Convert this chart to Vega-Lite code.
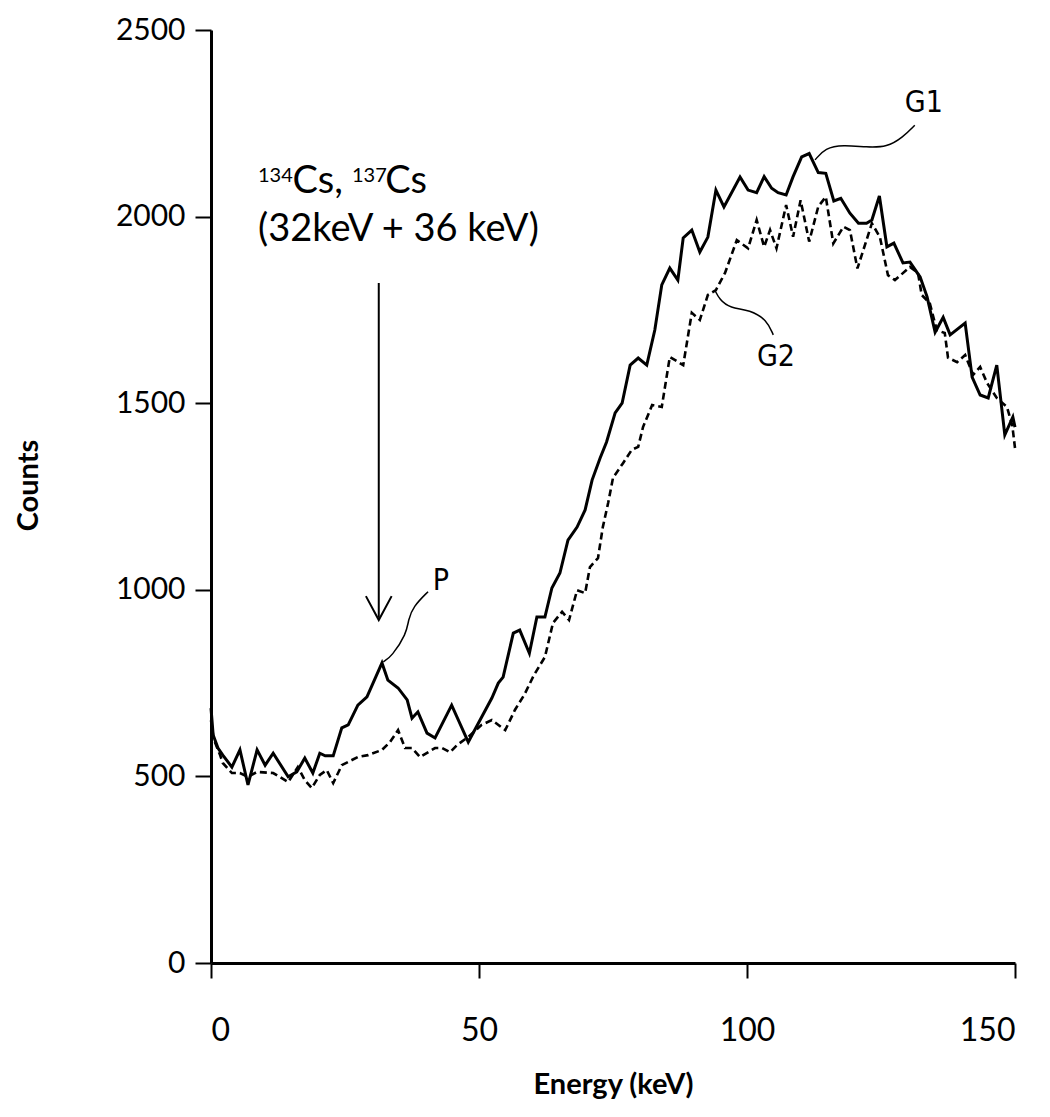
{
  "$schema": "https://vega.github.io/schema/vega-lite/v6.json",
  "width": 804,
  "height": 933,
  "autosize": "none",
  "padding": {"left": 211, "top": 30, "right": 35, "bottom": 154},
  "background": "white",
  "config": {
    "view": {"stroke": null},
    "axis": {"grid": false, "domainColor": "black", "tickColor": "black", "labelColor": "black", "titleColor": "black"}
  },
  "datasets": {
    "g1": [
      {"energy": 0, "counts": 683}, {"energy": 0.4, "counts": 611}, {"energy": 1.3, "counts": 576}, {"energy": 2.2, "counts": 557},
      {"energy": 3.9, "counts": 525}, {"energy": 5.4, "counts": 571}, {"energy": 6.9, "counts": 477}, {"energy": 8.6, "counts": 571},
      {"energy": 10.1, "counts": 530}, {"energy": 11.6, "counts": 562}, {"energy": 14.4, "counts": 499}, {"energy": 16, "counts": 512},
      {"energy": 17.5, "counts": 549}, {"energy": 19, "counts": 509}, {"energy": 20.3, "counts": 562}, {"energy": 21.3, "counts": 555},
      {"energy": 22.8, "counts": 555}, {"energy": 24.4, "counts": 630}, {"energy": 25.6, "counts": 638}, {"energy": 27.4, "counts": 691},
      {"energy": 29.1, "counts": 713}, {"energy": 31.9, "counts": 804}, {"energy": 33, "counts": 758}, {"energy": 34.9, "counts": 737},
      {"energy": 36.6, "counts": 705}, {"energy": 37.5, "counts": 656}, {"energy": 38.6, "counts": 673}, {"energy": 40.3, "counts": 616},
      {"energy": 41.8, "counts": 603}, {"energy": 44.9, "counts": 691}, {"energy": 48, "counts": 592}, {"energy": 50.5, "counts": 659},
      {"energy": 52.4, "counts": 710}, {"energy": 53.6, "counts": 750}, {"energy": 54.5, "counts": 766}, {"energy": 56.4, "counts": 884},
      {"energy": 57.6, "counts": 892}, {"energy": 59.4, "counts": 830}, {"energy": 60.8, "counts": 927}, {"energy": 62.3, "counts": 927},
      {"energy": 63.6, "counts": 1005}, {"energy": 65.1, "counts": 1045}, {"energy": 66.6, "counts": 1133}, {"energy": 68.3, "counts": 1168},
      {"energy": 69.8, "counts": 1214}, {"energy": 71.1, "counts": 1294}, {"energy": 72.6, "counts": 1353}, {"energy": 73.8, "counts": 1396},
      {"energy": 75.4, "counts": 1474}, {"energy": 76.7, "counts": 1500}, {"energy": 78.2, "counts": 1602}, {"energy": 79.7, "counts": 1621},
      {"energy": 81.3, "counts": 1602}, {"energy": 82.8, "counts": 1696}, {"energy": 84.1, "counts": 1817}, {"energy": 85.6, "counts": 1862},
      {"energy": 87.1, "counts": 1830}, {"energy": 88.1, "counts": 1943}, {"energy": 89.7, "counts": 1964}, {"energy": 91.2, "counts": 1905},
      {"energy": 92.7, "counts": 1945}, {"energy": 94.2, "counts": 2071}, {"energy": 95.7, "counts": 2026}, {"energy": 98.7, "counts": 2106},
      {"energy": 100.2, "counts": 2071}, {"energy": 101.8, "counts": 2064}, {"energy": 103.2, "counts": 2107}, {"energy": 104.6, "counts": 2076},
      {"energy": 105.8, "counts": 2064}, {"energy": 107.3, "counts": 2058}, {"energy": 108.6, "counts": 2107}, {"energy": 110.2, "counts": 2160},
      {"energy": 111.6, "counts": 2169}, {"energy": 113.3, "counts": 2118}, {"energy": 114.7, "counts": 2116}, {"energy": 116.2, "counts": 2042},
      {"energy": 117.5, "counts": 2049}, {"energy": 119.2, "counts": 2009}, {"energy": 120.8, "counts": 1982}, {"energy": 122.3, "counts": 1982},
      {"energy": 123.3, "counts": 1991}, {"energy": 124.7, "counts": 2055}, {"energy": 126.1, "counts": 1919}, {"energy": 127.4, "counts": 1929},
      {"energy": 129.1, "counts": 1876}, {"energy": 130.4, "counts": 1878}, {"energy": 132.3, "counts": 1838}, {"energy": 133.6, "counts": 1785},
      {"energy": 135.1, "counts": 1690}, {"energy": 136.6, "counts": 1730}, {"energy": 137.9, "counts": 1683}, {"energy": 140.7, "counts": 1715},
      {"energy": 142, "counts": 1570}, {"energy": 143.5, "counts": 1522}, {"energy": 145, "counts": 1514}, {"energy": 146.6, "counts": 1602},
      {"energy": 148.1, "counts": 1415}, {"energy": 149.6, "counts": 1463}, {"energy": 150, "counts": 1436}
    ],
    "g2": [
      {"energy": 0, "counts": 650}, {"energy": 0.5, "counts": 600}, {"energy": 1.7, "counts": 557}, {"energy": 2.2, "counts": 536},
      {"energy": 3.9, "counts": 509}, {"energy": 5.4, "counts": 509}, {"energy": 6.9, "counts": 499}, {"energy": 8.6, "counts": 512},
      {"energy": 11.6, "counts": 509}, {"energy": 14.4, "counts": 485}, {"energy": 16.2, "counts": 525}, {"energy": 17.5, "counts": 490},
      {"energy": 18.8, "counts": 469}, {"energy": 20.3, "counts": 504}, {"energy": 21.6, "counts": 517}, {"energy": 22.8, "counts": 482},
      {"energy": 24.4, "counts": 530}, {"energy": 25.6, "counts": 539}, {"energy": 27.4, "counts": 552}, {"energy": 29.3, "counts": 557},
      {"energy": 31.9, "counts": 571}, {"energy": 33.4, "counts": 592}, {"energy": 34.9, "counts": 624}, {"energy": 36.2, "counts": 576},
      {"energy": 37.5, "counts": 576}, {"energy": 39, "counts": 552}, {"energy": 41.8, "counts": 576}, {"energy": 43.1, "counts": 576},
      {"energy": 44.6, "counts": 565}, {"energy": 45.9, "counts": 584}, {"energy": 48, "counts": 606}, {"energy": 50.5, "counts": 638},
      {"energy": 52.4, "counts": 651}, {"energy": 54.9, "counts": 624}, {"energy": 56.7, "counts": 678}, {"energy": 58.5, "counts": 720},
      {"energy": 60.2, "counts": 770}, {"energy": 62.3, "counts": 820}, {"energy": 63.8, "counts": 911}, {"energy": 65.5, "counts": 941},
      {"energy": 66.8, "counts": 919}, {"energy": 68.3, "counts": 999}, {"energy": 69.8, "counts": 991}, {"energy": 70.7, "counts": 1061},
      {"energy": 72.2, "counts": 1085}, {"energy": 73.1, "counts": 1168}, {"energy": 74.1, "counts": 1233}, {"energy": 75, "counts": 1300},
      {"energy": 76.9, "counts": 1340}, {"energy": 78.5, "counts": 1375}, {"energy": 79.7, "counts": 1383}, {"energy": 80.6, "counts": 1436},
      {"energy": 82.3, "counts": 1495}, {"energy": 84.1, "counts": 1490}, {"energy": 85.6, "counts": 1624}, {"energy": 88.1, "counts": 1602},
      {"energy": 89.7, "counts": 1742}, {"energy": 91.2, "counts": 1723}, {"energy": 92.7, "counts": 1790}, {"energy": 94.2, "counts": 1803},
      {"energy": 95.9, "counts": 1849}, {"energy": 98.1, "counts": 1937}, {"energy": 100.2, "counts": 1915}, {"energy": 101.8, "counts": 1991},
      {"energy": 103.2, "counts": 1919}, {"energy": 104.3, "counts": 1964}, {"energy": 105.5, "counts": 1915}, {"energy": 107.3, "counts": 2031},
      {"energy": 108.6, "counts": 1946}, {"energy": 110, "counts": 2044}, {"energy": 111.6, "counts": 1933}, {"energy": 113.3, "counts": 2027},
      {"energy": 114.7, "counts": 2053}, {"energy": 116.1, "counts": 1928}, {"energy": 118, "counts": 1973}, {"energy": 119.2, "counts": 1964},
      {"energy": 120.6, "counts": 1861}, {"energy": 123.3, "counts": 1982}, {"energy": 124.8, "counts": 1945}, {"energy": 126.3, "counts": 1843},
      {"energy": 127.6, "counts": 1830}, {"energy": 130.4, "counts": 1865}, {"energy": 131.9, "counts": 1849}, {"energy": 132.6, "counts": 1790},
      {"energy": 134.1, "counts": 1768}, {"energy": 135.4, "counts": 1696}, {"energy": 136.9, "counts": 1688}, {"energy": 137.5, "counts": 1622},
      {"energy": 139.2, "counts": 1610}, {"energy": 140.7, "counts": 1629}, {"energy": 142.2, "counts": 1576}, {"energy": 143.5, "counts": 1597},
      {"energy": 144.8, "counts": 1554}, {"energy": 146.6, "counts": 1514}, {"energy": 148.5, "counts": 1490}, {"energy": 149.5, "counts": 1440},
      {"energy": 150, "counts": 1380}
    ],
    "leaders": [
      {"leader": "P", "energy": 32.15, "counts": 807}, {"leader": "P", "energy": 33.7, "counts": 821}, {"leader": "P", "energy": 36.5, "counts": 883},
      {"leader": "P", "energy": 36.8, "counts": 919}, {"leader": "P", "energy": 37.7, "counts": 955}, {"leader": "P", "energy": 40.5, "counts": 995},
      {"leader": "G1", "energy": 112.7, "counts": 2152}, {"leader": "G1", "energy": 114.6, "counts": 2184}, {"leader": "G1", "energy": 117.9, "counts": 2192},
      {"leader": "G1", "energy": 122.4, "counts": 2186}, {"leader": "G1", "energy": 126.1, "counts": 2186}, {"leader": "G1", "energy": 129.1, "counts": 2213},
      {"leader": "G1", "energy": 131.3, "counts": 2245},
      {"leader": "G2", "energy": 94.0, "counts": 1803}, {"leader": "G2", "energy": 94.9, "counts": 1777}, {"leader": "G2", "energy": 96.8, "counts": 1755},
      {"leader": "G2", "energy": 100.6, "counts": 1750}, {"leader": "G2", "energy": 103.7, "counts": 1723}, {"leader": "G2", "energy": 104.9, "counts": 1683}
    ],
    "labels": [
      {"label": "P", "energy": 42.9, "counts": 1024},
      {"label": "G1", "energy": 133, "counts": 2304},
      {"label": "G2", "energy": 105.4, "counts": 1624}
    ],
    "noteMain": [
      {"label": "Cs,", "energy": 15.2, "counts": 2063},
      {"label": "Cs", "energy": 32.5, "counts": 2063},
      {"label": "(32keV + 36 keV)", "energy": 8.77, "counts": 1935}
    ],
    "noteSup": [
      {"label": "134", "energy": 8.77, "counts": 2093},
      {"label": "137", "energy": 26.3, "counts": 2093}
    ],
    "arrowShaft": [
      {"energy": 31.3, "top": 1822, "bottom": 925}
    ],
    "arrowHead": [
      {"energy": 28.9, "counts": 983}, {"energy": 31.3, "counts": 919}, {"energy": 33.7, "counts": 983}
    ]
  },
  "layer": [
    {
      "data": {"name": "g1"},
      "mark": {"type": "line", "color": "black", "strokeWidth": 3, "strokeJoin": "miter"},
      "encoding": {
        "x": {"field": "energy", "type": "quantitative", "scale": {"domain": [0, 150], "nice": false},
          "axis": {"values": [0, 50, 100, 150], "format": "d", "title": "Energy (keV)", "domainWidth": 3, "tickWidth": 2, "tickSize": 15,
            "labelFont": "Lato", "labelFontSize": 32, "labelPadding": 37, "titleFont": "Lato", "titleFontSize": 29, "titleFontWeight": "bold", "titlePadding": 24}},
        "y": {"field": "counts", "type": "quantitative", "scale": {"domain": [0, 2500], "nice": false},
          "axis": {"values": [0, 500, 1000, 1500, 2000, 2500], "format": "d", "title": "Counts", "domainWidth": 3, "tickWidth": 2, "tickSize": 16,
            "labelFont": "Lato", "labelFontSize": 30, "labelPadding": 10, "titleFont": "Lato", "titleFontSize": 29, "titleFontWeight": "bold", "titleX": -168, "titleY": 455}}
      }
    },
    {
      "data": {"name": "g2"},
      "mark": {"type": "line", "color": "black", "strokeWidth": 2.6, "strokeDash": [7, 4]},
      "encoding": {
        "x": {"field": "energy", "type": "quantitative"},
        "y": {"field": "counts", "type": "quantitative"}
      }
    },
    {
      "data": {"name": "leaders"},
      "mark": {"type": "line", "color": "black", "strokeWidth": 1.5, "interpolate": "basis"},
      "encoding": {
        "x": {"field": "energy", "type": "quantitative"},
        "y": {"field": "counts", "type": "quantitative"},
        "detail": {"field": "leader"}
      }
    },
    {
      "data": {"name": "arrowShaft"},
      "mark": {"type": "rule", "color": "black", "strokeWidth": 2},
      "encoding": {
        "x": {"field": "energy", "type": "quantitative"},
        "y": {"field": "top", "type": "quantitative"},
        "y2": {"field": "bottom"}
      }
    },
    {
      "data": {"name": "arrowHead"},
      "mark": {"type": "line", "color": "black", "strokeWidth": 2},
      "encoding": {
        "x": {"field": "energy", "type": "quantitative"},
        "y": {"field": "counts", "type": "quantitative"}
      }
    },
    {
      "data": {"name": "labels"},
      "mark": {"type": "text", "font": "Liberation Sans Narrow, DejaVu Sans Condensed, sans-serif", "fontSize": 30, "color": "black", "align": "center", "baseline": "middle"},
      "encoding": {
        "x": {"field": "energy", "type": "quantitative"},
        "y": {"field": "counts", "type": "quantitative"},
        "text": {"field": "label"}
      }
    },
    {
      "data": {"name": "noteMain"},
      "mark": {"type": "text", "font": "Lato", "fontSize": 38, "color": "black", "align": "left", "baseline": "alphabetic"},
      "encoding": {
        "x": {"field": "energy", "type": "quantitative"},
        "y": {"field": "counts", "type": "quantitative"},
        "text": {"field": "label"}
      }
    },
    {
      "data": {"name": "noteSup"},
      "mark": {"type": "text", "font": "Lato", "fontSize": 20, "color": "black", "align": "left", "baseline": "alphabetic"},
      "encoding": {
        "x": {"field": "energy", "type": "quantitative"},
        "y": {"field": "counts", "type": "quantitative"},
        "text": {"field": "label"}
      }
    }
  ]
}
